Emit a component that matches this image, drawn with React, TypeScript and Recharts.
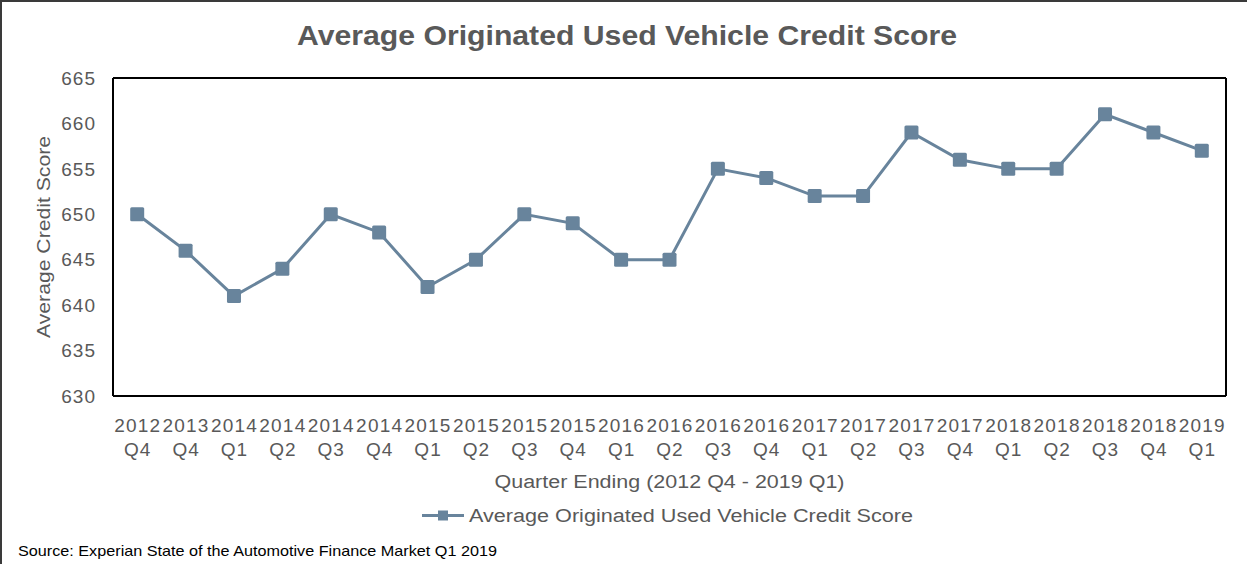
import { LineChart, Line, XAxis, YAxis } from 'recharts';

const quarters = [
  '2012 Q4', '2013 Q4', '2014 Q1', '2014 Q2', '2014 Q3', '2014 Q4',
  '2015 Q1', '2015 Q2', '2015 Q3', '2015 Q4', '2016 Q1', '2016 Q2',
  '2016 Q3', '2016 Q4', '2017 Q1', '2017 Q2', '2017 Q3', '2017 Q4',
  '2018 Q1', '2018 Q2', '2018 Q3', '2018 Q4', '2019 Q1',
];
const scores = [
  650, 646, 641, 644, 650, 648, 642, 645, 650, 649, 645, 645,
  655, 654, 652, 652, 659, 656, 655, 655, 661, 659, 657,
];
const yTicks = [630, 635, 640, 645, 650, 655, 660, 665];

const seriesName = 'Average Originated Used Vehicle Credit Score';
const LINE = '#68849c';
const TEXT = '#595959';
const FONT = '"Liberation Sans", Arial, sans-serif';

const data = quarters.map((quarter, i) => ({ quarter, score: scores[i] }));

function QuarterTick({ x, y, payload }: any) {
  const [year, q] = String(payload.value).split(' ');
  return (
    <g>
      <text x={x + 0.5} y={y + 36} textAnchor="middle" fill={TEXT} fontSize={19} letterSpacing={1.2} fontFamily={FONT}>
        {year}
      </text>
      <text x={x + 0.5} y={y + 60} textAnchor="middle" fill={TEXT} fontSize={19} letterSpacing={1} fontFamily={FONT}>
        {q}
      </text>
    </g>
  );
}

function SquareDot({ cx, cy }: any) {
  if (cx == null || cy == null) return null;
  return <rect x={cx - 7} y={cy - 7} width={14} height={14} rx={1.5} fill={LINE} />;
}

export default function App() {
  return (
    <div style={{ position: 'absolute', left: 0, top: 0, width: 1247, height: 564, background: '#fff', overflow: 'hidden' }}>
      <LineChart width={1247} height={564} data={data} margin={{ top: 77, right: 20, bottom: 0, left: 0 }}>
        <XAxis
          dataKey="quarter"
          scale="band"
          height={168}
          tickSize={0}
          tickMargin={0}
          interval={0}
          tick={<QuarterTick />}
          axisLine={{ stroke: '#000', strokeWidth: 2 }}
          label={(props: any) => {
            const vb = props.viewBox;
            return (
              <text x={vb.x + vb.width / 2} y={vb.y + 92} textAnchor="middle" fill={TEXT} fontSize={18}
                fontFamily={FONT} textLength={350} lengthAdjust="spacingAndGlyphs">
                Quarter  Ending (2012  Q4 - 2019 Q1)
              </text>
            );
          }}
        />
        <XAxis xAxisId="top" dataKey="quarter" scale="band" orientation="top" height={1} tick={false} tickLine={false}
          axisLine={{ stroke: '#000', strokeWidth: 2 }} />
        <YAxis
          width={113}
          domain={[630, 665]}
          ticks={yTicks}
          tickSize={0}
          tickMargin={17}
          tickLine={false}
          axisLine={{ stroke: '#000', strokeWidth: 2 }}
          tick={{ fill: TEXT, fontSize: 19, fontFamily: FONT, letterSpacing: 1 }}
          label={(props: any) => {
            const vb = props.viewBox;
            const cy = vb.y + vb.height / 2;
            return (
              <text x={43} y={cy} transform={`rotate(-90 43 ${cy})`} textAnchor="middle" dominantBaseline="central"
                fill={TEXT} fontSize={19} fontFamily={FONT} textLength={202} lengthAdjust="spacingAndGlyphs">
                Average  Credit  Score
              </text>
            );
          }}
        />
        <YAxis yAxisId="right" orientation="right" width={1} domain={[630, 665]} tick={false} tickLine={false}
          axisLine={{ stroke: '#000', strokeWidth: 2 }} />
        <Line
          dataKey="score"
          name={seriesName}
          stroke={LINE}
          strokeWidth={3}
          dot={<SquareDot />}
          activeDot={false}
          isAnimationActive={false}
        />
      </LineChart>
      <svg width={1247} height={564} style={{ position: 'absolute', left: 0, top: 0, pointerEvents: 'none' }}>
        <text x={627} y={44.5} textAnchor="middle" fill={TEXT} fontSize={28} fontWeight="bold" fontFamily={FONT}
          textLength={660} lengthAdjust="spacingAndGlyphs">
          {seriesName}
        </text>
        <line x1={422} y1={515.5} x2={464} y2={515.5} stroke={LINE} strokeWidth={3} />
        <rect x={438} y={510.5} width={10} height={10} fill={LINE} />
        <text x={469} y={522} fill={TEXT} fontSize={18} fontFamily={FONT} textLength={444} lengthAdjust="spacingAndGlyphs">
          {seriesName}
        </text>
        <text x={18} y={556} fill="#000" fontSize={15} fontFamily={FONT} textLength={479} lengthAdjust="spacingAndGlyphs">
          Source: Experian State of the Automotive Finance Market Q1 2019
        </text>
      </svg>
      <div style={{ position: 'absolute', left: 0, top: 0, right: -4, bottom: -4, borderTop: '2px solid #3a3a3a', borderLeft: '2px solid #3a3a3a', pointerEvents: 'none' }} />
    </div>
  );
}
